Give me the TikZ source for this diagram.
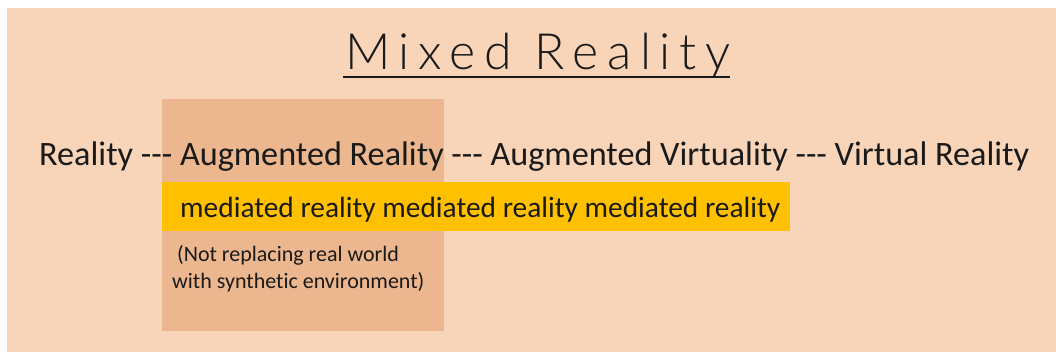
\documentclass[tikz,border=0pt]{standalone}
\usepackage{fontspec}
\setmainfont{Carlito}[Ligatures=NoCommon]
\newfontfamily\titlefont[LetterSpace=17.5]{Lato Light}
\usetikzlibrary{positioning}
\definecolor{peach}{HTML}{F8D5B8}
\definecolor{tan}{HTML}{ECB78E}
\definecolor{gold}{HTML}{FFC000}
\definecolor{ink}{HTML}{1A1A1A}
\tikzset{txt/.style={inner sep=0,text=ink}}
\newcommand\dashes{-{}-{}-}

\begin{document}
\begin{tikzpicture}[x=1pt,y=-1pt]
  \useasboundingbox (0,0) rectangle (1056,352);
  \fill[peach] (7,8) rectangle (1056,352);
  \fill[tan] (162,99) rectangle (444,331);
  \fill[gold] (162,182) rectangle (790,231);

  \node[txt,anchor=base west] (title) at (345,70) {\fontsize{50}{60}\selectfont\titlefont Mixed Reality};
  \draw[ink,line width=2pt] (343,77) -- (730,77);

  \node[txt,anchor=base west] (spectrum) at (39,166)
    {\fontsize{34.2}{41}\selectfont Reality \dashes{} Augmented Reality \dashes{} Augmented Virtuality \dashes{} Virtual Reality};
  \node[txt,anchor=base west] (mediated) at (180,218)
    {\fontsize{29.4}{35}\selectfont mediated reality mediated reality mediated reality};
  \node[txt,anchor=base west,align=left,font=\fontsize{22}{26.5}\selectfont] (note) at (172,288)
    {\ (Not replacing real world\\with synthetic environment)};
\end{tikzpicture}
\end{document}
